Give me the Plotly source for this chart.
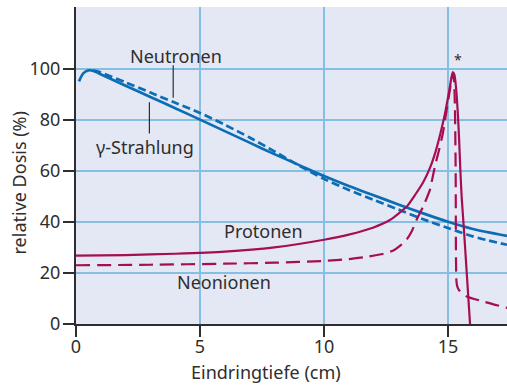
import plotly.graph_objects as go

# --- data ---
gamma_x = [0.12, 0.3, 0.5, 0.7, 0.95, 2, 3, 4, 5, 6, 7, 8, 9, 10, 11, 12, 13, 14, 15, 16, 17.38]
gamma_y = [95.0, 98.2, 99.3, 99.1, 98.0, 93.3, 88.9, 84.5, 80.0, 75.5, 71.0, 66.5, 62.2, 57.9, 54.0, 50.4, 46.8, 43.3, 40.0, 37.2, 34.5]

neutron_x = [0.7, 0.9, 2, 3, 4, 5, 6, 7, 8, 9, 10, 11, 12, 13, 14, 15, 16, 17.38]
neutron_y = [99.2, 98.8, 94.6, 90.6, 86.6, 82.6, 78.0, 73.0, 67.6, 62.0, 56.8, 52.5, 48.6, 44.8, 41.0, 37.6, 34.3, 31.0]

proton_x = [0, 2, 4, 6, 8, 10, 11, 12, 12.66, 13.33, 13.67, 14.0, 14.27, 14.5, 14.68, 14.85, 14.98,
            15.08, 15.15, 15.2, 15.26, 15.33, 15.4, 15.45, 15.5, 15.55, 15.65, 15.77, 15.89]
proton_y = [26.8, 27.0, 27.5, 28.3, 30.0, 33.0, 35.0, 37.8, 40.7, 45.9, 50.5, 55.5, 61.0, 67.5, 74.0, 81.0, 87.5,
            93.0, 97.0, 98.6, 97.5, 92.0, 82.0, 72.0, 60.0, 50.0, 36.0, 18.0, 0.0]

neon_x = [0, 3, 6, 8, 10, 11, 11.8, 12.4, 12.8, 13.05, 13.33, 13.55, 13.73, 14.0, 14.27, 14.47, 14.65, 14.8, 14.95, 15.05,
          15.13, 15.19, 15.24, 15.28, 15.31, 15.32, 15.34, 15.38, 15.45, 15.55, 15.75, 16.5, 17.38]
neon_y = [23.0, 23.2, 23.6, 24.0, 24.7, 25.4, 26.4, 27.5, 28.8, 30.5, 33.0, 36.5, 40.7, 46.0, 52.5, 61.6, 68.5, 75.0, 84.0, 90.0,
          95.0, 98.0, 96.0, 85.0, 60.0, 30.0, 17.0, 14.5, 13.2, 12.2, 10.8, 8.6, 6.3]

x_ticks = [0, 5, 10, 15]
y_ticks = [0, 20, 40, 60, 80, 100]

BLUE = "#0b6db3"
RED = "#a50e52"
TXT = "#2e2e2e"
FONT = "Noto Sans"

fig = go.Figure()
fig.add_trace(go.Scatter(x=gamma_x, y=gamma_y, mode="lines",
                         line=dict(color=BLUE, width=2.7, shape="spline", smoothing=0.8)))
fig.add_trace(go.Scatter(x=neutron_x, y=neutron_y, mode="lines",
                         line=dict(color=BLUE, width=2.7, dash="8px,4px", shape="spline", smoothing=0.8)))
fig.add_trace(go.Scatter(x=proton_x, y=proton_y, mode="lines",
                         line=dict(color=RED, width=2.2, shape="spline", smoothing=0.5)))
fig.add_trace(go.Scatter(x=neon_x, y=neon_y, mode="lines",
                         line=dict(color=RED, width=2.2, dash="14px,7px", shape="spline", smoothing=0.5)))

# pointer lines for labels
fig.add_shape(type="line", x0=3.92, x1=3.92, y0=101.3, y1=88.6, line=dict(color=TXT, width=1.2))
fig.add_shape(type="line", x0=2.96, x1=2.96, y0=86.8, y1=74.6, line=dict(color=TXT, width=1.2))

labels = [
    ("Neutronen", 4.03, 104.9),
    ("γ-Strahlung", 2.78, 69.4),
    ("Protonen", 7.57, 36.6),
    ("Neonionen", 5.97, 16.6),
]
for t, x, y in labels:
    fig.add_annotation(x=x, y=y, text=t, showarrow=False, xanchor="center", yanchor="middle",
                       font=dict(family=FONT, size=18, color=TXT))
fig.add_annotation(x=15.41, y=103.5, text="*", showarrow=False,
                   font=dict(family=FONT, size=14, color=TXT))

# axis titles
fig.add_annotation(xref="paper", yref="paper", x=(266 - 76) / 431, y=-(372.5 - 324.3) / 317.6,
                   text="Eindringtiefe (cm)", showarrow=False, xanchor="center", yanchor="middle",
                   font=dict(family=FONT, size=18, color=TXT))
fig.add_annotation(xref="paper", yref="paper", x=-(76 - 18.5) / 431, y=(324.3 - 183) / 317.6,
                   text="relative Dosis (%)", textangle=-90, showarrow=False,
                   xanchor="center", yanchor="middle",
                   font=dict(family=FONT, size=18, color=TXT))

fig.update_layout(
    width=507, height=385,
    margin=dict(l=76, r=0, t=7, b=61),
    paper_bgcolor="white",
    plot_bgcolor="#e4e7f4",
    showlegend=False,
    font=dict(family=FONT, size=18, color=TXT),
)
fig.update_xaxes(range=[0, 17.38], tickvals=x_ticks, ticks="outside", ticklen=11, tickwidth=1.5,
                 tickcolor=TXT, showline=True, linecolor=TXT, linewidth=2,
                 showgrid=True, gridcolor="#86bfe4", gridwidth=2, zeroline=False,
                 ticklabelstandoff=-6,
                 tickfont=dict(family=FONT, size=18, color=TXT))
fig.update_yaxes(range=[0, 124.1], tickvals=y_ticks, ticks="outside", ticklen=11, tickwidth=1.5,
                 tickcolor=TXT, showline=True, linecolor=TXT, linewidth=2,
                 showgrid=True, gridcolor="#86bfe4", gridwidth=2, zeroline=False,
                 ticklabelstandoff=-1,
                 tickfont=dict(family=FONT, size=18, color=TXT))

fig.write_html("out.html")
